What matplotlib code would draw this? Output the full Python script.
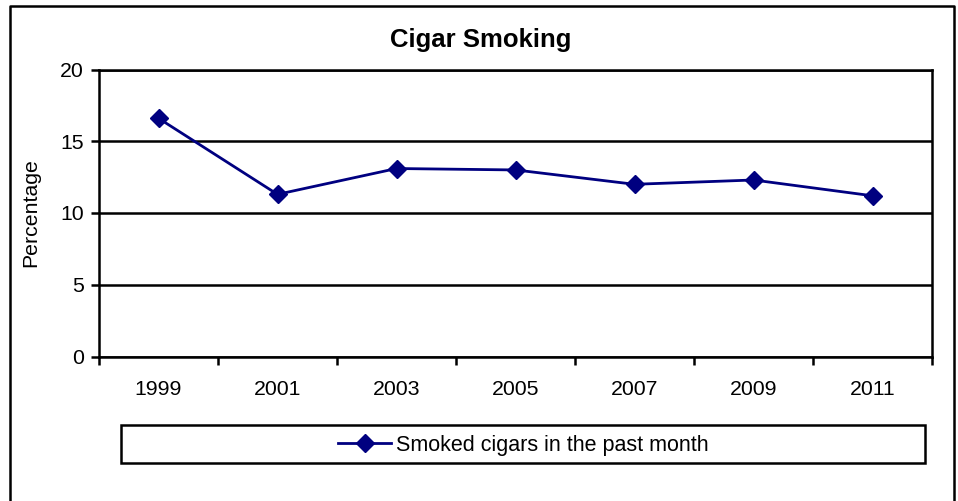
import matplotlib
matplotlib.use('Agg')
import matplotlib.pyplot as plt
from matplotlib.lines import Line2D
from matplotlib.patches import Rectangle

plt.rcParams['font.family'] = ['Liberation Sans', 'DejaVu Sans']

years = ['1999', '2001', '2003', '2005', '2007', '2009', '2011']
cigars = [16.6, 11.3, 13.1, 13.0, 12.0, 12.3, 11.2]
yticks = [0, 5, 10, 15, 20]

W, H = 958, 501
fig = plt.figure(figsize=(W / 100, H / 100), dpi=100)

# outer chart border (no bottom edge)
fig.add_artist(Line2D([10 / W, 10 / W, 954 / W, 954 / W],
                      [0, 1 - 6 / H, 1 - 6 / H, 0],
                      transform=fig.transFigure, color='black', lw=1.8))

ax = fig.add_axes([99 / W, (H - 356.5) / H, 833 / W, 287 / H])
x = list(range(len(years)))
ax.plot(x, cigars, color='#000080', lw=2, marker='D', ms=9,
        label='Smoked cigars in the past month', zorder=3)

ax.set_xlim(-0.5, len(years) - 0.5)
ax.set_ylim(0, 20)
ax.set_yticks(yticks)
ax.set_xticks([i - 0.5 for i in range(len(years) + 1)], minor=False)
ax.set_xticklabels([])
ax.set_xticks(x, minor=True)
ax.set_xticklabels(years, minor=True)
ax.tick_params(axis='x', which='major', length=6, width=1.8, direction='out')
ax.tick_params(axis='x', which='minor', length=0, pad=17, labelsize=15.3)
ax.tick_params(axis='y', length=6, width=1.8, labelsize=15.3, pad=5)
ax.yaxis.grid(True, color='black', lw=1.8)
for s in ax.spines.values():
    s.set_linewidth(1.8)
ax.set_axisbelow(True)

ax.set_ylabel('Percentage', fontsize=15.3, labelpad=14)
fig.text(481 / W, 1 - 40 / H, 'Cigar Smoking', ha='center', va='center',
         fontsize=18.5, fontweight='bold')

# legend box spans most of the chart width, entry centred inside
fig.add_artist(Rectangle((121 / W, 1 - 463 / H), 804 / W, 38 / H,
                         transform=fig.transFigure, fill=False,
                         edgecolor='black', lw=1.8))
leg = fig.legend(loc='center', bbox_to_anchor=(523 / W, 1 - 445 / H),
                 fontsize=15.5, frameon=False, handlelength=2.5,
                 handletextpad=0.2)

fig.savefig('out.png', dpi=100)
